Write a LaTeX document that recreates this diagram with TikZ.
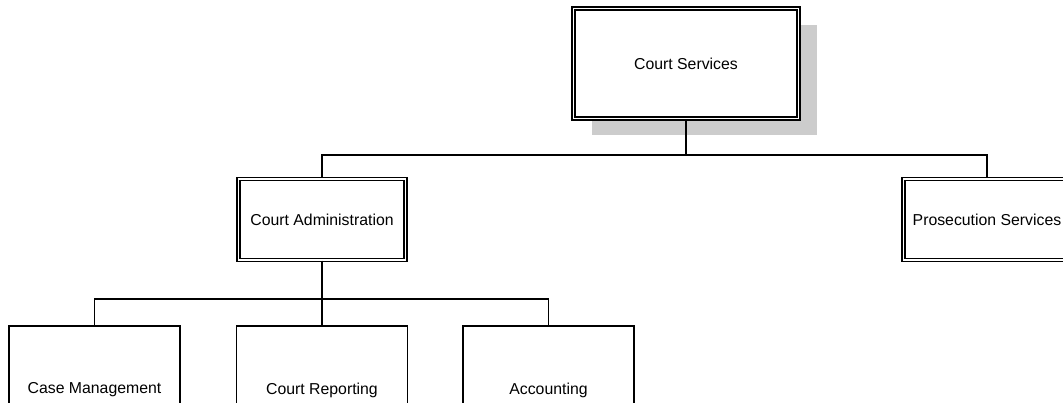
\documentclass[tikz,border=0pt]{standalone}
\usepackage{fontspec}
\setmainfont{Liberation Sans}
\usetikzlibrary{shadows}
\definecolor{shadowgray}{HTML}{CCCCCC}

\begin{document}
\begin{tikzpicture}[line width=0.6pt, font=\fontsize{9}{11}\selectfont]

\useasboundingbox (0,0) rectangle (21.26,-8.06);
\clip (0,0) rectangle (21.26,-8.06);

\tikzstyle{every node}=[rectangle, draw, fill=white, double, double distance=1.1pt]
\draw    (13.72,-1.27) node[minimum width=4.5cm, minimum height=2.2cm,
           drop shadow={shadow xshift=0.36cm, shadow yshift=-0.34cm, fill=shadowgray, opacity=1}] (serv) {Court Services}
         (6.44,-4.39)  node[minimum width=3.34cm, minimum height=1.62cm] (admin) {Court Administration}
         (19.74,-4.39) node[minimum width=3.34cm, minimum height=1.62cm] (prose) {Prosecution Services};

\tikzstyle{every node}=[rectangle, draw, fill=white, minimum width=3.42cm, minimum height=2.56cm]
\draw    (1.89,-7.8)   node (casem) {Case Management}
         (6.44,-7.8)   node (report) {Court Reporting}
         (10.97,-7.8)  node (acct) {Accounting};

\coordinate (bus1) at (13.72,-3.10);
\coordinate (bus2) at (6.44,-5.98);

\draw (serv) -- (bus1);
\draw (bus1) -| (admin);
\draw (bus1) -| (prose);
\draw (admin) -- (bus2);
\draw (bus2) -| (casem);
\draw (bus2) -- (report);
\draw (bus2) -| (acct);

\end{tikzpicture}
\end{document}
